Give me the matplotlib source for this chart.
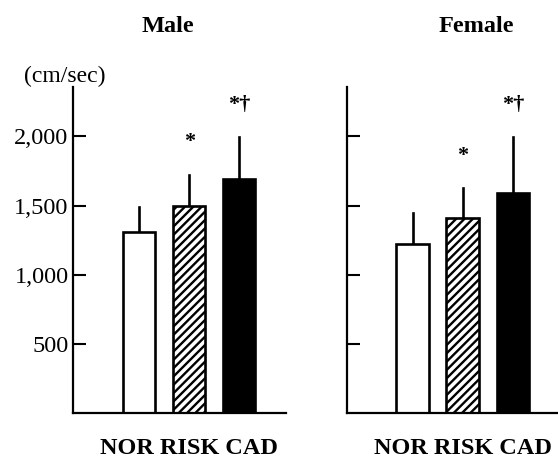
import matplotlib

matplotlib.use("Agg")
import matplotlib.pyplot as plt
from matplotlib.ticker import FuncFormatter

plt.rcParams["font.family"] = ["Liberation Serif", "DejaVu Serif"]
plt.rcParams["hatch.linewidth"] = 1.7

groups = ["NOR", "RISK", "CAD"]
male_mean = [1312, 1500, 1690]
male_sd = [181, 221, 303]
female_mean = [1223, 1413, 1589]
female_sd = [222, 212, 404]
male_marks = ["", "*", "*\u2020"]
female_marks = ["", "*", "*\u2020"]
yticks = [500, 1000, 1500, 2000]

fills = ["white", "white", "black"]
hatches = [None, "////", None]

fig = plt.figure(figsize=(5.58, 4.62), dpi=100)
ax_m = fig.add_axes([0.1303, 0.105, 0.3822, 0.7067])
ax_f = fig.add_axes([0.6219, 0.105, 0.376, 0.7067])


def draw_panel(ax, means, sds, marks, xlim, show_labels):
    xs = list(range(len(groups)))
    for x, m, s, fc, h in zip(xs, means, sds, fills, hatches):
        ax.plot([x, x], [m, m + s], color="black", lw=1.9, zorder=1)
        ax.bar(x, m, width=0.65, color=fc, edgecolor="black", hatch=h,
               linewidth=1.9, zorder=2)
    for x, m, s, t in zip(xs, means, sds, marks):
        if t:
            ax.text(x, m + s + 235, t, ha="center", va="center", fontsize=16,
                    fontweight="bold")
    ax.set_xlim(*xlim)
    ax.set_ylim(0, 2355)
    ax.set_yticks(yticks)
    ax.set_xticks([])
    for side in ("top", "right"):
        ax.spines[side].set_visible(False)
    for side in ("left", "bottom"):
        ax.spines[side].set_linewidth(1.6)
    ax.tick_params(axis="y", direction="in", length=9.5, width=1.5,
                   labelsize=17.5, pad=3, labelleft=show_labels)
    if show_labels:
        ax.yaxis.set_major_formatter(FuncFormatter(lambda v, p: f"{int(v):,}"))
    ax.text(0.5 * (xs[0] + xs[-1]), -0.108, " ".join(groups),
            transform=ax.get_xaxis_transform(), ha="center", va="center",
            fontsize=17.5, fontweight="bold")


draw_panel(ax_m, male_mean, male_sd, male_marks, (-1.326, 2.934), True)
draw_panel(ax_f, female_mean, female_sd, female_marks, (-1.306, 2.874), False)

fig.text(168 / 558, 1 - 26 / 462, "Male", ha="center", va="center",
         fontsize=17.5, fontweight="bold")
fig.text(476 / 558, 1 - 26 / 462, "Female", ha="center", va="center",
         fontsize=17.5, fontweight="bold")
fig.text(65 / 558, 1 - 76 / 462, "(cm/sec)", ha="center", va="center",
         fontsize=17)

fig.savefig("out.png", dpi=100)
